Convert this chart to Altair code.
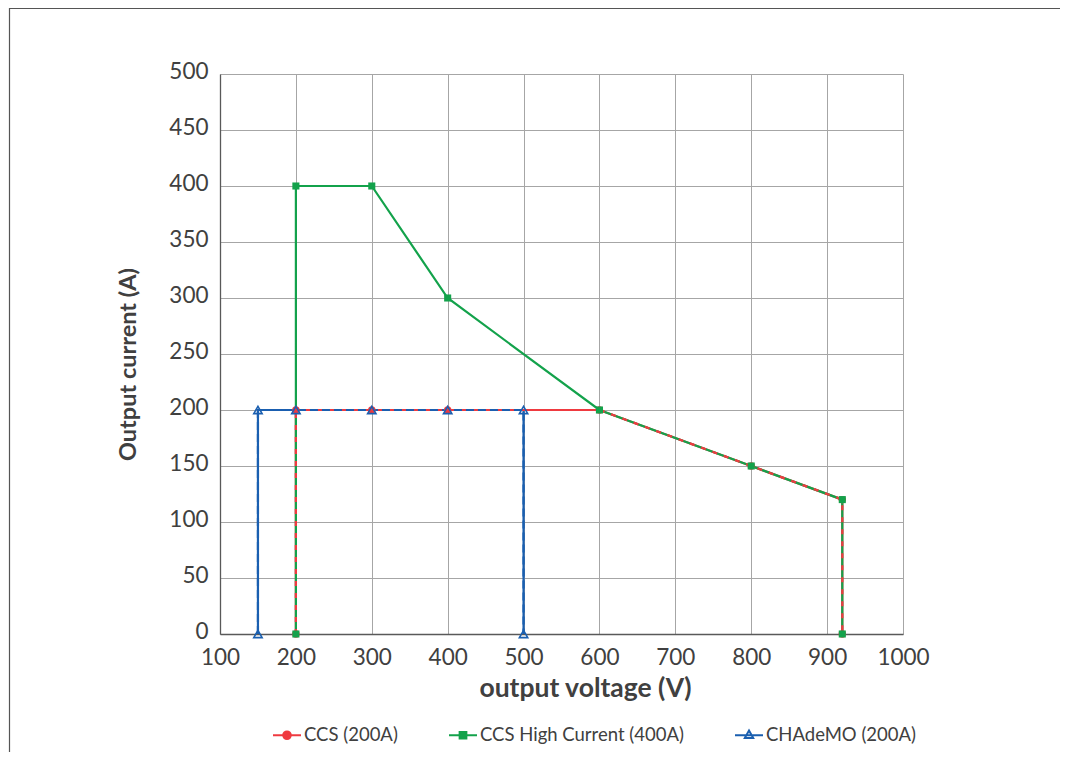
import altair as alt
import pandas as pd

series_names = ["CCS (200A)", "CCS High Current (400A)", "CHAdeMO (200A)"]
series_colors = ["#ef3a40", "#13a24b", "#1a5fb0"]

ccs_v = [200, 200, 300, 400, 600, 800, 920, 920]
ccs_i = [0, 200, 200, 200, 200, 150, 120, 0]
hc_v = [200, 200, 300, 400, 600, 800, 920, 920]
hc_i = [0, 400, 400, 300, 200, 150, 120, 0]
ch_v = [150, 150, 200, 300, 400, 500, 500]
ch_i = [0, 200, 200, 200, 200, 200, 0]

x_ticks = [100, 200, 300, 400, 500, 600, 700, 800, 900, 1000]
y_ticks = [0, 50, 100, 150, 200, 250, 300, 350, 400, 450, 500]

FONT = "Lato"
TXT = "#404040"

def frame(v, i, name):
    return pd.DataFrame({"v": v, "i": i, "o": list(range(len(v))), "s": name})

df_ccs = frame(ccs_v, ccs_i, series_names[0])
df_hc = frame(hc_v, hc_i, series_names[1])
df_ch = frame(ch_v, ch_i, series_names[2])

xenc = alt.X("v:Q", scale=alt.Scale(domain=[100, 1000], nice=False, zero=False),
             axis=alt.Axis(values=x_ticks, format="d", title="output voltage (V)", titleX=365,
                           labelPadding=12, titlePadding=7, labelFlush=False, labelOverlap=False,
                           titleFontSize=26.5))
yenc = alt.Y("i:Q", scale=alt.Scale(domain=[0, 500], nice=False),
             axis=alt.Axis(values=y_ticks, format="d", title="Output current (A)", labelPadding=12,
                           labelOffset=-3, titlePadding=28, titleY=290, labelFlush=False,
                           labelOverlap=False, titleFontSize=23.5))

red, green, blue = series_colors

def line(df, color, dash=None):
    kw = dict(color=color, strokeWidth=2.2, clip=False)
    if dash:
        kw["strokeDash"] = dash
    return alt.Chart(df).mark_line(**kw).encode(x=xenc, y=yenc, order="o:Q")

blue_solid = line(df_ch, blue)
red_solid = line(df_ccs, red)
green_solid = line(df_hc, green)
red_dash = line(df_ccs, red, [5, 7])
blue_dash = line(df_ch, blue, [8, 4])

red_pts = alt.Chart(df_ccs).mark_point(shape="circle", filled=True, size=55, color=red, opacity=1).encode(x=xenc, y=yenc)
green_pts = alt.Chart(df_hc).mark_point(shape="square", filled=True, size=50, color=green, opacity=1).encode(x=xenc, y=yenc)
blue_pts = alt.Chart(df_ch).mark_point(shape="triangle-up", filled=False, size=70, color=blue,
                                       strokeWidth=1.6, opacity=1).encode(x=xenc, y=yenc)

legend_paths = [
    "M-1,0L1,0M0.27,0A0.27,0.27,0,1,1,-0.27,0A0.27,0.27,0,1,1,0.27,0Z",
    "M-1,0L1,0M-0.24,-0.24L0.24,-0.24L0.24,0.24L-0.24,0.24Z",
    "M-1,0L1,0M0,-0.34L0.3,0.2L-0.3,0.2Z",
]
legend_fills = [red, green, "white"]

leg = alt.Legend(orient="none", legendX=52, legendY=646, direction="horizontal", title=None,
                 labelFont=FONT, labelFontSize=18.5, labelColor=TXT, symbolSize=784, labelLimit=400,
                 symbolStrokeWidth=2, columnPadding=47, labelOffset=2, padding=0)

leg_df = pd.DataFrame({"s": series_names, "v": [500] * 3, "i": [250] * 3})
legend_layer = alt.Chart(leg_df).transform_filter("false").mark_point(filled=True, opacity=1, size=784).encode(
    x=xenc, y=yenc,
    shape=alt.Shape("s:N", scale=alt.Scale(domain=series_names, range=legend_paths), legend=leg),
    stroke=alt.Stroke("s:N", scale=alt.Scale(domain=series_names, range=series_colors), legend=leg),
    fill=alt.Fill("s:N", scale=alt.Scale(domain=series_names, range=legend_fills), legend=leg),
)

border = alt.Chart(pd.DataFrame({"a": [0]})).mark_rect(fill=None, stroke="#555555", strokeWidth=1.2, clip=False).encode(
    x=alt.value(-210.5), x2=alt.value(1200), y=alt.value(-65.5), y2=alt.value(900)
)

chart = alt.layer(
    border, blue_solid, red_solid, green_solid, red_dash, blue_dash,
    red_pts, green_pts, blue_pts, legend_layer
).properties(
    width=683, height=560, autosize="none",
    padding={"left": 212, "top": 66, "right": 157, "bottom": 118},
    background="white",
).configure_view(stroke=None).configure_axis(
    grid=True, gridColor="#a6a6a6", gridWidth=1, domainColor="#595959", domainWidth=1.3,
    ticks=False, labelFont=FONT, labelFontSize=22.5, labelColor=TXT,
    titleFont=FONT, titleFontWeight="bold", titleColor=TXT,
)

chart.save("out.html", embed_options={"renderer": "svg", "actions": False})
